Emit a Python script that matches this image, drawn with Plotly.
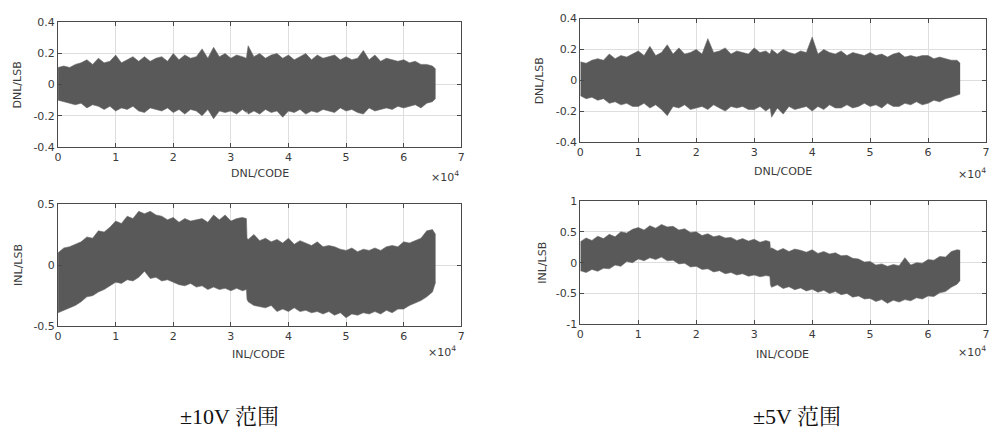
import plotly.graph_objects as go

W, H = 995, 438

# code positions (thousands of codes)
CODES_K = list(range(0, 33)) + [32.7, 32.8] + list(range(33, 66)) + [65.535]

DNL10_UP = [0.11, 0.12, 0.11, 0.13, 0.14, 0.16, 0.13, 0.17, 0.14, 0.15, 0.19, 0.14, 0.16, 0.18, 0.15, 0.18, 0.15,
            0.17, 0.18, 0.15, 0.20, 0.16, 0.19, 0.17, 0.18, 0.23, 0.17, 0.24, 0.18, 0.20, 0.17, 0.19, 0.18,
            0.17, 0.20,
            0.25, 0.18, 0.20, 0.17, 0.19, 0.20, 0.17, 0.19, 0.16, 0.18, 0.20, 0.16, 0.19, 0.17, 0.18, 0.19,
            0.16, 0.18, 0.16, 0.17, 0.22, 0.16, 0.19, 0.15, 0.17, 0.16, 0.15, 0.16, 0.14, 0.15, 0.13, 0.13, 0.12,
            0.10]
DNL10_LO = [-0.10, -0.11, -0.12, -0.13, -0.12, -0.15, -0.13, -0.14, -0.16, -0.14, -0.17, -0.15, -0.16, -0.14,
            -0.17, -0.18, -0.15, -0.16, -0.17, -0.15, -0.18, -0.16, -0.19, -0.16, -0.17, -0.20, -0.16, -0.22,
            -0.17, -0.18, -0.17, -0.19, -0.16,
            -0.18, -0.17,
            -0.19, -0.17, -0.19, -0.16, -0.18, -0.17, -0.21, -0.17, -0.18, -0.16, -0.19, -0.17, -0.18, -0.16,
            -0.17, -0.18, -0.15, -0.17, -0.16, -0.18, -0.19, -0.15, -0.17, -0.16, -0.15, -0.16, -0.14, -0.15,
            -0.14, -0.13, -0.15, -0.12, -0.11,
            -0.09]
INL10_UP = [0.10, 0.14, 0.15, 0.17, 0.19, 0.23, 0.22, 0.28, 0.27, 0.31, 0.36, 0.34, 0.40, 0.38, 0.44, 0.42, 0.44,
            0.41, 0.40, 0.37, 0.39, 0.35, 0.38, 0.36, 0.37, 0.38, 0.35, 0.41, 0.37, 0.41, 0.36, 0.38, 0.39,
            0.38, 0.22,
            0.21, 0.25, 0.20, 0.22, 0.19, 0.21, 0.18, 0.22, 0.17, 0.20, 0.18, 0.16, 0.19, 0.15, 0.16, 0.15,
            0.13, 0.12, 0.14, 0.11, 0.13, 0.12, 0.14, 0.12, 0.15, 0.16, 0.15, 0.19, 0.18, 0.20, 0.22, 0.28, 0.29,
            0.25]
INL10_LO = [-0.39, -0.37, -0.35, -0.33, -0.30, -0.26, -0.25, -0.22, -0.20, -0.17, -0.14, -0.15, -0.12, -0.13,
            -0.10, -0.05, -0.11, -0.10, -0.13, -0.12, -0.14, -0.16, -0.17, -0.15, -0.18, -0.17, -0.20, -0.18,
            -0.20, -0.19, -0.21, -0.19, -0.21,
            -0.20, -0.28,
            -0.30, -0.33, -0.34, -0.35, -0.33, -0.38, -0.36, -0.38, -0.35, -0.38, -0.37, -0.39, -0.38, -0.40,
            -0.38, -0.41, -0.39, -0.43, -0.40, -0.41, -0.39, -0.40, -0.38, -0.40, -0.37, -0.39, -0.36, -0.36,
            -0.33, -0.31, -0.29, -0.26, -0.22,
            -0.14]
DNL5_UP = [0.12, 0.11, 0.13, 0.14, 0.13, 0.17, 0.14, 0.16, 0.15, 0.17, 0.19, 0.16, 0.22, 0.16, 0.18, 0.23, 0.17,
           0.21, 0.17, 0.18, 0.20, 0.17, 0.27, 0.18, 0.19, 0.21, 0.17, 0.19, 0.18, 0.17, 0.21, 0.18, 0.19,
           0.17, 0.18,
           0.20, 0.17, 0.20, 0.18, 0.17, 0.19, 0.18, 0.28, 0.17, 0.20, 0.18, 0.17, 0.19, 0.16, 0.18, 0.17,
           0.16, 0.18, 0.16, 0.17, 0.15, 0.17, 0.18, 0.15, 0.16, 0.15, 0.16, 0.16, 0.14, 0.15, 0.14, 0.13, 0.13,
           0.11]
DNL5_LO = [-0.10, -0.12, -0.11, -0.13, -0.12, -0.15, -0.14, -0.16, -0.15, -0.17, -0.17, -0.15, -0.18, -0.16,
           -0.19, -0.23, -0.17, -0.18, -0.16, -0.19, -0.18, -0.17, -0.19, -0.16, -0.18, -0.20, -0.17, -0.18,
           -0.17, -0.19, -0.19, -0.17, -0.20,
           -0.18, -0.19,
           -0.24, -0.18, -0.22, -0.17, -0.19, -0.18, -0.17, -0.20, -0.17, -0.19, -0.16, -0.18, -0.18, -0.16,
           -0.18, -0.17, -0.15, -0.17, -0.16, -0.18, -0.15, -0.17, -0.17, -0.15, -0.16, -0.14, -0.16, -0.15,
           -0.13, -0.14, -0.12, -0.11, -0.10,
           -0.09]
INL5_UP = [0.34, 0.40, 0.36, 0.43, 0.39, 0.46, 0.42, 0.50, 0.48, 0.54, 0.57, 0.53, 0.60, 0.56, 0.62, 0.58, 0.59,
           0.53, 0.55, 0.49, 0.50, 0.44, 0.47, 0.42, 0.44, 0.40, 0.41, 0.36, 0.39, 0.35, 0.38, 0.33, 0.36,
           0.34, 0.22,
           0.24, 0.19, 0.23, 0.18, 0.22, 0.20, 0.17, 0.21, 0.15, 0.18, 0.14, 0.16, 0.11, 0.12, 0.07, 0.06,
           0.01, 0.02, -0.04, -0.02, -0.06, -0.03, -0.05, 0.08, -0.04, 0.00, -0.01, 0.05, 0.04, 0.10, 0.09,
           0.18, 0.21,
           0.20]
INL5_LO = [-0.13, -0.16, -0.11, -0.14, -0.09, -0.10, -0.04, -0.06, 0.02, 0.00, 0.06, 0.03, 0.08, 0.05, 0.09,
           0.03, 0.04, -0.02, -0.01, -0.07, -0.06, -0.11, -0.10, -0.15, -0.13, -0.18, -0.16, -0.20, -0.18,
           -0.22, -0.20, -0.23, -0.21,
           -0.22, -0.36,
           -0.40, -0.36, -0.42, -0.39, -0.44, -0.41, -0.46, -0.43, -0.48, -0.45, -0.50, -0.47, -0.52, -0.50,
           -0.56, -0.54, -0.59, -0.58, -0.63, -0.60, -0.66, -0.61, -0.64, -0.60, -0.62, -0.57, -0.59, -0.54,
           -0.55, -0.49, -0.47, -0.40, -0.35,
           -0.29]

X_TICKS = [0, 1, 2, 3, 4, 5, 6, 7]
X_TICK_LABELS = ["0", "1", "2", "3", "4", "5", "6", "7"]
DNL_YTICKS = [-0.4, -0.2, 0, 0.2, 0.4]
INL10_YTICKS = [-0.5, 0, 0.5]
INL5_YTICKS = [-1, -0.5, 0, 0.5, 1]

codes = [k * 1000 for k in CODES_K]

# (upper, lower, axis suffix, y range, y ticks, x px domain, y px domain)
panels = [
    (DNL10_UP, DNL10_LO, "", [-0.4, 0.4], DNL_YTICKS, (54.5, 461), (17, 145)),
    (INL10_UP, INL10_LO, "2", [-0.5, 0.5], INL10_YTICKS, (54.5, 461), (204, 330)),
    (DNL5_UP, DNL5_LO, "3", [-0.4, 0.4], DNL_YTICKS, (581, 990), (13, 140)),
    (INL5_UP, INL5_LO, "4", [-1, 1], INL5_YTICKS, (581, 990), (201, 328)),
]

BAND = "#595959"
fig = go.Figure()
tick_font = dict(family="DejaVu Sans, Liberation Sans, sans-serif", size=11, color="#3a3a3a")

for up, lo, s, yr, yt, (x0, x1), (y0, y1) in panels:
    xa, ya = "x" + s, "y" + s
    fig.add_trace(go.Scatter(x=codes, y=up, mode="lines", line=dict(color="#6a6a6a", width=0.6),
                             xaxis=xa, yaxis=ya, showlegend=False, hoverinfo="skip"))
    fig.add_trace(go.Scatter(x=codes, y=lo, mode="lines", line=dict(color="#6a6a6a", width=0.6),
                             fill="tonexty", fillcolor=BAND,
                             xaxis=xa, yaxis=ya, showlegend=False, hoverinfo="skip"))
    common = dict(showline=True, mirror="ticks", linecolor="#4a4a4a", linewidth=1,
                  showgrid=True, gridcolor="#dedede", gridwidth=1, zeroline=False,
                  ticks="inside", ticklen=4, tickcolor="#4a4a4a", tickfont=tick_font)
    fig.layout["xaxis" + s] = dict(domain=[x0 / W, x1 / W], anchor=ya, range=[0, 70000],
                                   tickvals=[t * 10000 for t in X_TICKS], ticktext=X_TICK_LABELS, **common)
    fig.layout["yaxis" + s] = dict(domain=[1 - y1 / H, 1 - y0 / H], anchor=xa, range=yr,
                                   tickvals=yt, ticktext=[f"{v:g}" for v in yt], **common)

lab_font = dict(family="DejaVu Sans, Liberation Sans, sans-serif", size=11, color="#3a3a3a")


def ann(text, px, py, angle=0, font=lab_font, xanchor="center"):
    fig.add_annotation(text=text, x=px / W, y=1 - py / H, xref="paper", yref="paper",
                       showarrow=False, textangle=angle, font=font, xanchor=xanchor, yanchor="middle")


ann("DNL/LSB", 14, 81, -90)
ann("INL/LSB", 14, 267, -90)
ann("DNL/LSB", 540, 77, -90)
ann("INL/LSB", 543, 265, -90)
ann("DNL/CODE", 258, 173)
ann("DNL/CODE", 785, 171)
ann("INL/CODE", 257, 359)
ann("INL/CODE", 785, 359)
ann("×10<sup>4</sup>", 461, 176, xanchor="right")
ann("×10<sup>4</sup>", 992, 173, xanchor="right")
ann("×10<sup>4</sup>", 458, 356, xanchor="right")
ann("×10<sup>4</sup>", 992, 356, xanchor="right")

cap_font = dict(family="Liberation Serif, Noto Serif CJK SC, Noto Sans CJK SC, serif", size=22, color="#111111")
ann("±10V 范围", 227, 423, font=cap_font)
ann("±5V 范围", 799, 423, font=cap_font)

fig.update_layout(width=W, height=H, margin=dict(l=0, r=0, t=0, b=0),
                  paper_bgcolor="white", plot_bgcolor="white", showlegend=False)

fig.write_html("out.html", config={"displayModeBar": False},
               post_script="document.body.style.margin='0';document.body.style.overflow='hidden';")
